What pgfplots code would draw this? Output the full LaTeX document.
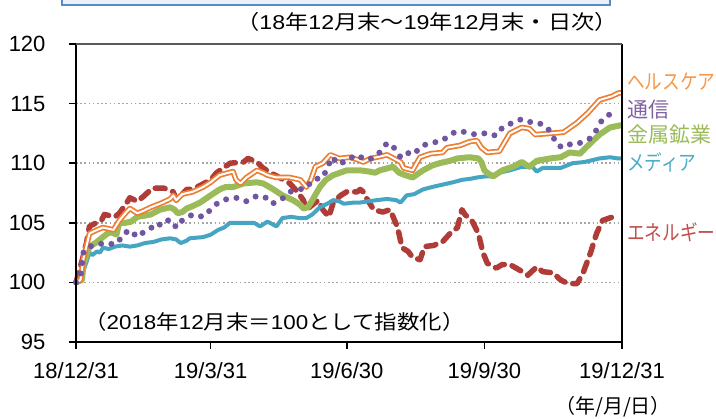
\documentclass[border=0pt]{standalone}
\usepackage{fontspec}
\usepackage{graphicx}
\usepackage{pgfplots}
\pgfplotsset{compat=1.18}
\setmainfont{Liberation Sans}
\newfontfamily\tickfont{Liberation Sans}
\newfontfamily\jpl{Noto Sans CJK JP}
\newfontfamily\jpk{Noto Sans CJK JP}[FakeStretch=0.84]
\newcommand\dg[1]{{\tickfont #1}}
\definecolor{cEn}{RGB}{176,60,55}
\definecolor{cEnT}{RGB}{192,80,77}
\definecolor{cMe}{RGB}{70,165,195}
\definecolor{cMeT}{RGB}{75,172,198}
\definecolor{cMt}{RGB}{155,187,89}
\definecolor{cHe}{RGB}{237,125,49}
\definecolor{cHeT}{RGB}{247,150,70}
\definecolor{cTe}{RGB}{112,85,160}
\definecolor{cTeT}{RGB}{128,100,162}
\definecolor{cGrid}{RGB}{165,165,165}
\definecolor{cBox}{RGB}{85,140,200}
\begin{document}
\begin{tikzpicture}
\useasboundingbox (0,0) rectangle (716pt,419pt);
\begin{scope}
\clip (0,0) rectangle (716pt,419pt);
\draw[cBox, line width=2pt, fill={rgb,255:red,235;green,241;blue,250}] (62pt,414pt) rectangle (610pt,440pt);
\end{scope}
\begin{axis}[
  at={(76pt,77pt)}, anchor=south west, scale only axis,
  width=546pt, height=298pt,
  xmin=0, xmax=365, ymin=95, ymax=120,
  xtick={0,90,181,273,365},
  xticklabels={18/12/31,19/3/31,19/6/30,19/9/30,19/12/31},
  ytick={95,100,105,110,115,120},
  xtick pos=bottom, ytick pos=left,
  tick align=outside, major tick length=7pt,
  tick style={black, line width=1.5pt},
  axis line style={draw=none},
  ymajorgrids, major grid style={cGrid, line width=1.6pt, dash pattern=on 1.6pt off 2.6pt},
  /pgf/number format/assume math mode=true,
  ticklabel style={font=\tickfont\fontsize{22}{22}\selectfont},
  yticklabel style={anchor=east, xshift=-20pt},
  xticklabel style={yshift=-10pt},
  clip=false,
]
% Energy
\addplot[cEn, line width=5.5pt, dash pattern=on 10pt off 8pt, line cap=round, line join=round] coordinates {
(0,100)(4,101.8)(7,103.3)(9,104.7)(12,104.9)(17,105.2)(19,105.7)(26,105.5)(29,105.8)(34,106.7)(36,107.1)(41,106.8)(45,107.2)(51,107.9)(56,107.9)(59,107.9)(65,107.6)(67,106.9)(71,107.4)(74,107.8)(78,107.8)(84,108.2)(90,108.6)(94,109.2)(103,110.0)(112,110.1)(115,110.4)(121,110.1)(125,109.6)(130,109.2)(136,108.8)(143,108.3)(148,107.6)(152,106.9)(154,106.1)(158,106.5)(162,106.9)(165,106.1)(169,105.5)(172,106.7)(177,107.3)(181,107.6)(188,107.6)(190,107.8)(192,107.6)(193,107.3)(199,106.1)(205,105.9)(210,106.1)(215,104.6)(218,102.9)(222,102.6)(225,102.1)(230,101.9)(233,103.0)(239,103.1)(245,103.4)(250,104.1)(255,104.6)(258,106.1)(260,105.7)(265,105.1)(269,104.1)(272,102.5)(275,101.6)(281,101.2)(285,101.5)(290,101.5)(297,101.0)(302,100.6)(308,101.3)(312,100.9)(319,100.8)(324,100.2)(329,99.9)(335,99.9)(339,100.8)(344,102.5)(348,104.1)(352,105.2)(359,105.5)(362,105.7)
};
% Media
\addplot[cMe, line width=4pt, line join=round] coordinates {
(0,100)(3,100.2)(5,101.0)(7,101.7)(9,102.5)(11,102.3)(14,102.6)(16,102.5)(18,102.9)(22,102.8)(26,103.0)(31,103.1)(36,103.0)(41,103.1)(46,103.3)(52,103.4)(57,103.6)(63,103.7)(67,103.6)(70,103.3)(74,103.5)(76,103.7)(85,103.8)(90,104.0)(95,104.4)(99,104.6)(103,105.0)(110,105.0)(119,105.0)(123,104.7)(128,105.1)(134,104.7)(138,105.4)(144,105.5)(149,105.4)(154,105.4)(158,105.7)(163,106.3)(168,106.6)(172,106.9)(176,106.8)(179,106.6)(186,106.7)(190,106.7)(195,106.8)(201,106.9)(208,107.0)(214,106.9)(217,106.7)(221,107.3)(226,107.4)(232,107.8)(238,108.0)(245,108.2)(252,108.4)(258,108.6)(264,108.7)(268,108.8)(274,108.9)(279,108.9)(283,109.2)(290,109.4)(298,109.7)(305,109.7)(308,109.3)(312,109.6)(318,109.6)(324,109.6)(332,110.0)(340,110.1)(350,110.4)(357,110.5)(362,110.4)(365,110.4)
};
% Metals
\addplot[cMt, line width=6pt, line join=round] coordinates {
(0,100)(4,100.2)(5,101.5)(7,102.3)(9,103.0)(13,103.3)(16,103.6)(21,104.1)(24,104.2)(27,104.0)(29,105.0)(33,105.0)(37,105.1)(41,105.5)(46,105.6)(50,105.7)(56,106.1)(63,106.3)(66,106.1)(68,105.8)(71,105.9)(74,106.2)(78,106.4)(83,106.7)(90,107.3)(96,107.8)(100,108.0)(105,108.0)(112,108.3)(121,108.4)(125,108.3)(128,108.1)(132,107.8)(138,107.3)(145,106.9)(150,106.5)(152,106.2)(155,106.3)(158,106.9)(163,108.0)(167,108.6)(172,109.0)(181,109.4)(190,109.4)(196,109.3)(200,109.2)(203,109.4)(212,109.7)(216,109.2)(220,109.0)(225,108.8)(232,109.4)(238,109.8)(243,110.0)(250,110.2)(255,110.4)(263,110.5)(269,110.4)(271,110.1)(273,109.4)(276,109.1)(279,108.9)(285,109.4)(292,109.7)(298,110.1)(303,109.7)(308,110.2)(317,110.4)(324,110.5)(330,110.9)(337,110.8)(340,111.2)(344,111.7)(350,112.4)(357,113.0)(365,113.2)
};
% Health care (double line)
\pgfplotstableread{
x y
0 100
3 100.2
5 102.0
9 104.1
14 104.4
18 104.6
22 104.5
25 104.4
29 105.2
33 105.8
36 106.2
41 105.8
45 106.0
50 106.3
54 106.5
58 106.7
63 107.0
65 107.3
67 106.9
71 107.4
78 107.6
85 108.0
90 108.4
94 108.8
96 109.0
105 109.3
107 108.6
110 108.3
114 108.8
121 109.4
125 109.2
128 109.0
134 108.8
143 108.8
150 108.6
154 108.0
157 108.6
160 109.7
165 110.0
170 110.7
176 110.4
183 110.5
188 110.3
192 110.1
197 110.4
201 110.5
208 110.7
214 110.3
217 110.1
219 109.6
225 109.4
230 110.5
237 110.8
245 110.9
248 111.3
257 111.5
263 111.8
268 111.9
271 111.3
275 110.9
283 111.0
290 112.5
298 113.0
303 112.9
307 112.4
317 112.5
326 112.6
335 113.4
342 114.2
350 115.3
358 115.6
363 115.9
365 115.9
}\health
\addplot[cHe, line width=5.5pt, line join=round] table {\health};
\addplot[white, line width=2pt, line join=round] table {\health};
% Telecom
\addplot[cTe, line width=6pt, line cap=round, dash pattern=on 0pt off 10.5pt] coordinates {
(0,100)(3,100.5)(5,102.5)(8,103.0)(14,103.1)(18,103.3)(22,103.2)(28,103.3)(31,104.0)(36,104.4)(41,103.8)(45,104.2)(50,104.6)(54,104.5)(58,105.2)(64,105.2)(67,104.6)(71,105.2)(78,105.7)(85,105.5)(90,106.1)(95,106.7)(101,107.0)(108,107.1)(114,106.8)(120,107.2)(126,107.2)(131,106.6)(135,106.8)(140,107.2)(143,107.6)(149,107.8)(154,107.9)(158,108.6)(165,108.8)(168,109.6)(171,110.5)(176,109.9)(183,110.4)(188,110.7)(193,110.3)(198,110.4)(203,110.9)(208,111.7)(212,111.4)(217,110.5)(221,110.9)(225,110.7)(232,111.5)(238,111.7)(245,111.9)(250,112.4)(255,112.7)(261,112.6)(267,112.4)(273,112.5)(278,112.3)(282,112.4)(285,113.0)(292,113.4)(298,113.7)(305,113.4)(309,113.4)(315,113.0)(318,112.4)(322,111.5)(326,111.3)(332,111.7)(337,111.7)(344,112.1)(348,112.8)(352,113.7)(358,114.2)
};
\draw[black, line width=2.2pt] (rel axis cs:0,1) -- (rel axis cs:0,0) -- (rel axis cs:1,0) -- (rel axis cs:1,1);
\draw[black!65, line width=2pt] (rel axis cs:0,1) -- (rel axis cs:1,1);
\end{axis}
\begin{scope}[every node/.style={inner sep=0pt}]
\node[anchor=east, font=\jpl\fontsize{20}{20}\selectfont] at (618pt,397pt) {\scalebox{1.16}[1]{（\dg{18}年\dg{12}月末～\dg{19}年\dg{12}月末・日次）}};
\node[anchor=west, font=\jpl\fontsize{20}{20}\selectfont] at (84pt,97pt) {\scalebox{1.12}[1]{（\dg{2018}年\dg{12}月末＝\dg{100}として指数化）}};
\node[font=\jpl\fontsize{20}{20}\selectfont] at (613pt,12pt) {（年/月/日）};
\node[anchor=west, text=cHeT, font=\jpk\fontsize{21}{21}\selectfont] at (627pt,337pt) {ヘルスケア};
\node[anchor=west, text=cTeT, font=\jpl\fontsize{21}{21}\selectfont] at (627pt,309pt) {通信};
\node[anchor=west, text=cMt, font=\jpl\fontsize{21}{21}\selectfont] at (627pt,284pt) {金属鉱業};
\node[anchor=west, text=cMeT, font=\jpk\fontsize{21}{21}\selectfont] at (627pt,257pt) {メディア};
\node[anchor=west, text=cEnT, font=\jpk\fontsize{21}{21}\selectfont] at (627pt,187pt) {エネルギー};
\end{scope}
\end{tikzpicture}
\end{document}
